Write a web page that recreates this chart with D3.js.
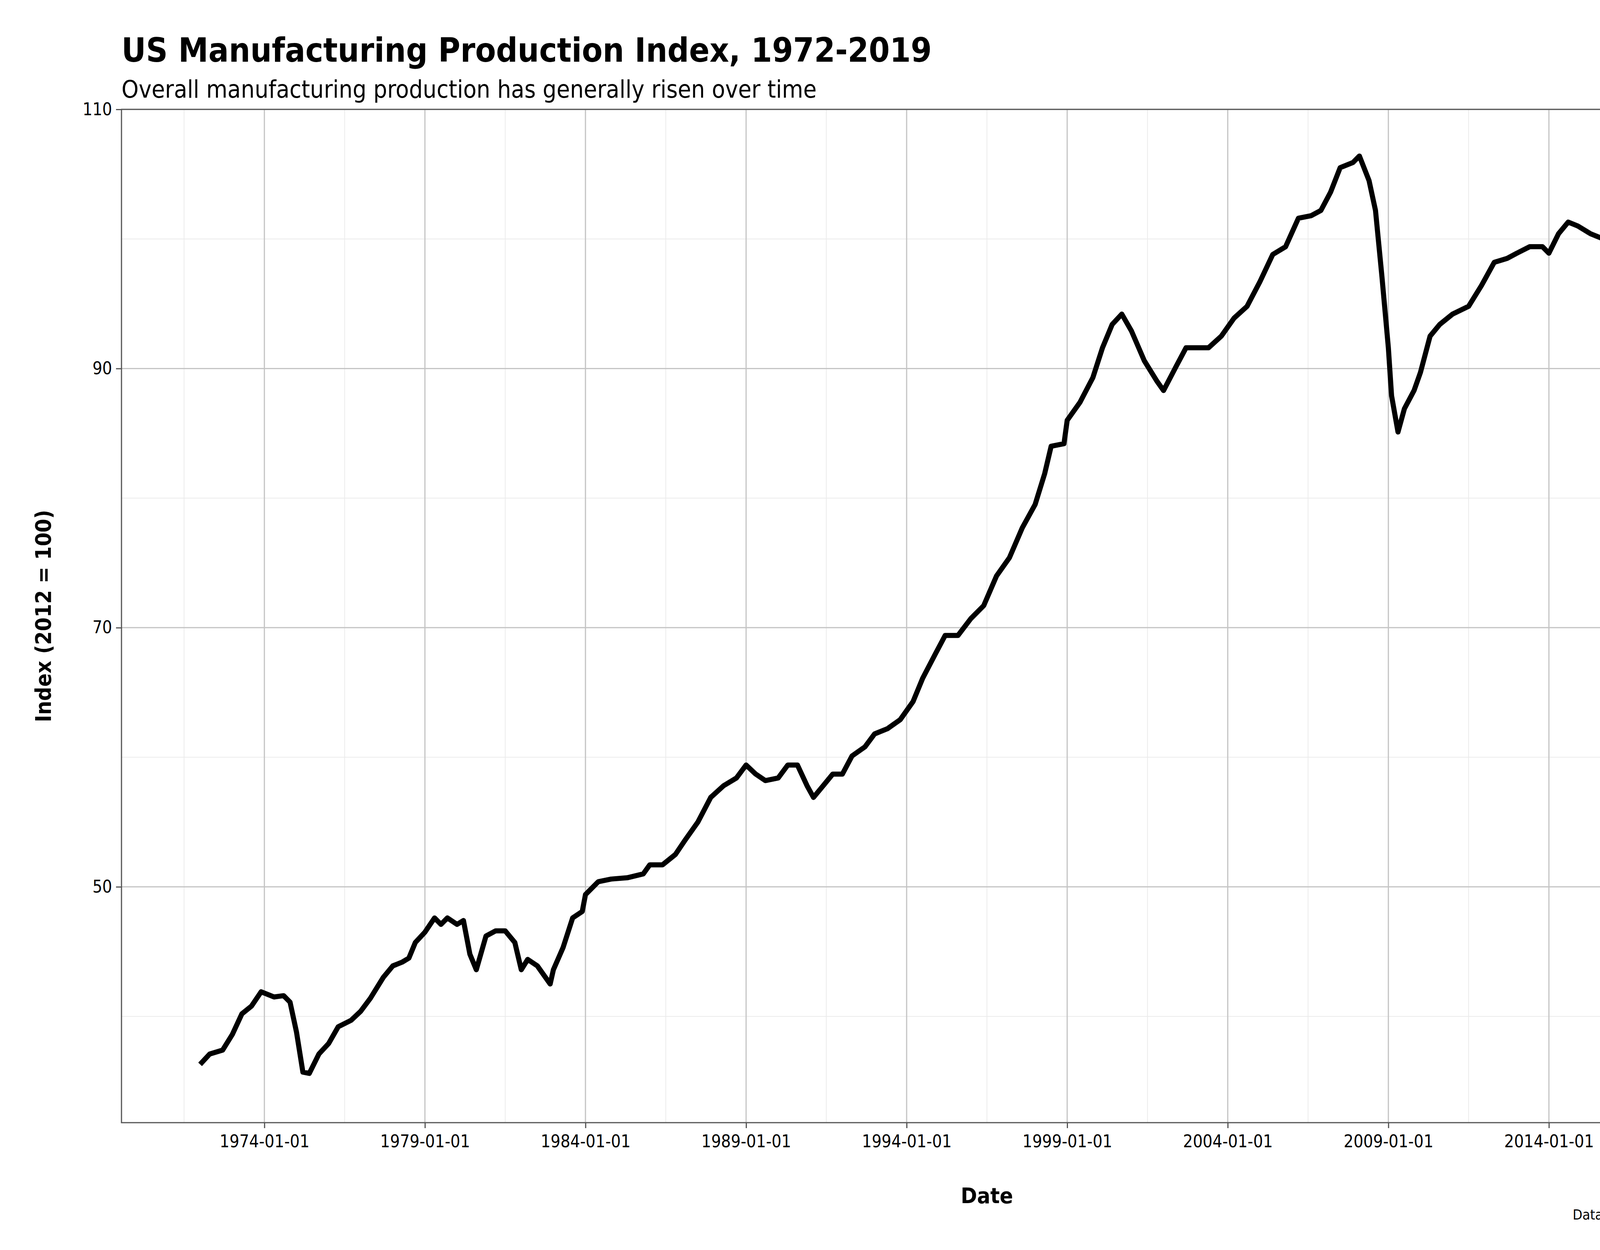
<!DOCTYPE html>
<html>
<head>
<meta charset="utf-8">
<script src="https://cdn.jsdelivr.net/npm/d3@7"></script>
<style>
  body { margin: 0; background: #fff; overflow: hidden; }
  text { font-family: "DejaVu Sans Condensed", "DejaVu Sans", sans-serif; font-stretch: condensed; }
</style>
</head>
<body>
<div id="chart"></div>
<script>
// decimal year and index value
var years = [1972.0,1972.3,1972.7,1973.0,1973.3,1973.6,1973.9,1974.3,1974.6,1974.8,1975.0,1975.2,1975.4,1975.7,1976.0,1976.3,1976.7,1977.0,1977.3,1977.7,1978.0,1978.3,1978.5,1978.7,1979.0,1979.3,1979.5,1979.7,1980.0,1980.2,1980.4,1980.6,1980.9,1981.2,1981.5,1981.8,1982.0,1982.2,1982.5,1982.9,1983.0,1983.3,1983.6,1983.9,1984.0,1984.4,1984.8,1985.3,1985.8,1986.0,1986.4,1986.8,1987.1,1987.5,1987.9,1988.3,1988.7,1989.0,1989.3,1989.6,1990.0,1990.3,1990.6,1990.9,1991.1,1991.4,1991.7,1992.0,1992.3,1992.7,1993.0,1993.4,1993.8,1994.2,1994.5,1994.9,1995.2,1995.6,1996.0,1996.4,1996.8,1997.2,1997.6,1998.0,1998.3,1998.5,1998.9,1999.0,1999.4,1999.8,2000.1,2000.4,2000.7,2001.0,2001.4,2001.8,2002.0,2002.4,2002.7,2003.0,2003.4,2003.8,2004.2,2004.6,2005.0,2005.4,2005.8,2006.2,2006.6,2006.9,2007.2,2007.5,2007.9,2008.1,2008.4,2008.6,2008.8,2009.0,2009.1,2009.3,2009.5,2009.8,2010.0,2010.3,2010.6,2011.0,2011.5,2011.9,2012.3,2012.7,2013.0,2013.4,2013.8,2014.0,2014.3,2014.6,2014.9,2015.3,2015.8,2016.3,2016.8,2017.3,2017.8,2018.3,2018.6,2018.8,2019.1,2019.5,2019.9,2020.1,2020.2,2020.3,2020.4,2020.5,2020.6,2020.8,2020.95,2021.0];
var values = [36.3,37.1,37.4,38.6,40.2,40.8,41.9,41.5,41.6,41.1,38.8,35.7,35.6,37.1,37.9,39.2,39.7,40.4,41.4,43.0,43.9,44.2,44.5,45.7,46.5,47.6,47.1,47.6,47.1,47.4,44.8,43.6,46.2,46.6,46.6,45.7,43.6,44.4,43.9,42.5,43.6,45.3,47.6,48.1,49.4,50.4,50.6,50.7,51.0,51.7,51.7,52.5,53.6,55.0,56.9,57.8,58.4,59.4,58.7,58.2,58.4,59.4,59.4,57.8,56.9,57.8,58.7,58.7,60.1,60.8,61.8,62.2,62.9,64.3,66.1,68.0,69.4,69.4,70.7,71.7,74.0,75.4,77.7,79.5,81.9,84.0,84.2,86.0,87.4,89.3,91.6,93.4,94.2,92.9,90.6,89.0,88.3,90.2,91.6,91.6,91.6,92.5,93.9,94.8,96.7,98.8,99.4,101.6,101.8,102.2,103.6,105.5,105.9,106.4,104.5,102.2,97.1,91.6,87.9,85.1,86.9,88.3,89.7,92.5,93.4,94.2,94.8,96.4,98.2,98.5,98.9,99.4,99.4,98.9,100.4,101.3,101.0,100.4,99.9,99.3,99.4,99.4,100.1,100.8,101.8,101.9,100.8,99.9,98.9,98.9,95.3,80.5,84.2,90.6,94.4,95.7,97.1,98.2];
var yTicks = [50, 70, 90, 110];
var yMinor = [40, 60, 80, 100];
var xTickYears = [1974, 1979, 1984, 1989, 1994, 1999, 2004, 2009, 2014, 2019];

var W = 4800, H = 3200;
var padLeft = 311, padRight = 4742, padTop = 280, padBottom = 2874;

function toDate(v) {
    var yr = Math.floor(v);
    var start = new Date(yr, 0, 1), end = new Date(yr + 1, 0, 1);
    return new Date(start.getTime() + (v - yr) * (end - start));
}
var data = years.map(function (v, i) { return { date: toDate(v), value: values[i] }; });

var x = d3.scaleTime().domain([toDate(1969.55), toDate(2023.45)]).range([padLeft, padRight]);
var y = d3.scaleLinear().domain([31.8, 110]).range([padBottom, padTop]);

var svg = d3.select("#chart").append("svg").attr("width", W).attr("height", H);

// minor grid
var xMinor = xTickYears.map(function (v) { return toDate(v - 2.5); }).concat([toDate(2021.5)]);
svg.append("g").selectAll("line").data(xMinor).enter().append("line")
    .attr("x1", function (d) { return x(d); }).attr("x2", function (d) { return x(d); })
    .attr("y1", padTop).attr("y2", padBottom).attr("stroke", "#ebebeb").attr("stroke-width", 2);
svg.append("g").selectAll("line").data(yMinor).enter().append("line")
    .attr("x1", padLeft).attr("x2", padRight)
    .attr("y1", function (d) { return y(d); }).attr("y2", function (d) { return y(d); })
    .attr("stroke", "#ebebeb").attr("stroke-width", 2);

// major grid
var xTicks = xTickYears.map(function (v) { return new Date(v, 0, 1); });
svg.append("g").selectAll("line").data(xTicks).enter().append("line")
    .attr("x1", function (d) { return x(d); }).attr("x2", function (d) { return x(d); })
    .attr("y1", padTop).attr("y2", padBottom).attr("stroke", "#c4c4c4").attr("stroke-width", 3);
svg.append("g").selectAll("line").data(yTicks).enter().append("line")
    .attr("x1", padLeft).attr("x2", padRight)
    .attr("y1", function (d) { return y(d); }).attr("y2", function (d) { return y(d); })
    .attr("stroke", "#c4c4c4").attr("stroke-width", 3);

// line
svg.append("path").datum(data)
    .attr("d", d3.line().x(function (d) { return x(d.date); }).y(function (d) { return y(d.value); }))
    .attr("fill", "none").attr("stroke", "#000").attr("stroke-width", 13)
    .attr("stroke-linejoin", "round").attr("stroke-linecap", "butt");

// border
svg.append("rect").attr("x", padLeft).attr("y", padTop).attr("width", padRight - padLeft).attr("height", padBottom - padTop)
    .attr("fill", "none").attr("stroke", "#555").attr("stroke-width", 3);

// axes
var xAxis = svg.append("g").attr("transform", "translate(0," + padBottom + ")")
    .call(d3.axisBottom(x).tickValues(xTicks).tickFormat(d3.timeFormat("%Y-%m-%d")).tickSize(14).tickPadding(18));
var yAxis = svg.append("g").attr("transform", "translate(" + padLeft + ",0)")
    .call(d3.axisLeft(y).tickValues(yTicks).tickSize(14).tickPadding(10));
[xAxis, yAxis].forEach(function (a) {
    a.select(".domain").remove();
    a.selectAll(".tick line").attr("stroke", "#555").attr("stroke-width", 3);
    a.selectAll(".tick text").attr("font-size", 44).attr("fill", "#000")
        .style("font-family", "'DejaVu Sans Condensed', 'DejaVu Sans', sans-serif").style("font-stretch", "condensed");
});

// titles
svg.append("text").attr("x", padLeft).attr("y", 158).attr("font-size", 86).attr("font-weight", "bold")
    .text("US Manufacturing Production Index, 1972-2019");
svg.append("text").attr("x", padLeft).attr("y", 250).attr("font-size", 62)
    .text("Overall manufacturing production has generally risen over time");
svg.append("text").attr("x", (padLeft + padRight) / 2).attr("y", 3080).attr("text-anchor", "middle")
    .attr("font-size", 56).attr("font-weight", "bold").text("Date");
svg.append("text").attr("transform", "translate(130," + ((padTop + padBottom) / 2) + ") rotate(-90)")
    .attr("text-anchor", "middle").attr("font-size", 56).attr("font-weight", "bold").text("Index (2012 = 100)");
svg.append("text").attr("x", padRight).attr("y", 3122).attr("text-anchor", "end")
    .attr("font-size", 36).text("Data obtained from FRED data series IPMAN");
</script>
</body>
</html>
